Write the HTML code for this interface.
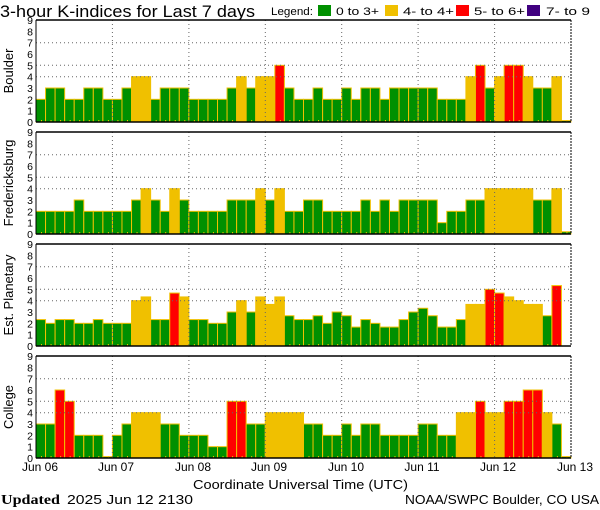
<!DOCTYPE html>
<html><head><meta charset="utf-8"><style>
html,body{margin:0;padding:0;background:#fff;}
svg{display:block;font-family:"Liberation Sans","DejaVu Sans",sans-serif;}
</style></head><body>
<svg id="s" width="600" height="510" xmlns="http://www.w3.org/2000/svg">
<rect width="600" height="510" fill="#fff"/>
<text x="0" y="17" font-size="17" fill="#000" textLength="255" lengthAdjust="spacingAndGlyphs">3-hour K-indices for Last 7 days</text>
<text x="271" y="15" font-size="11" fill="#000" textLength="42" lengthAdjust="spacingAndGlyphs">Legend:</text>
<rect x="318" y="5" width="13" height="11" fill="#009000"/>
<text x="336" y="15" font-size="11" textLength="43" lengthAdjust="spacingAndGlyphs">0 to 3+</text>
<rect x="385" y="5" width="13" height="11" fill="#f0c000"/>
<text x="403" y="15" font-size="11" textLength="51" lengthAdjust="spacingAndGlyphs">4- to 4+</text>
<rect x="456" y="5" width="13" height="11" fill="#ff0000"/>
<text x="474" y="15" font-size="11" textLength="51" lengthAdjust="spacingAndGlyphs">5- to 6+</text>
<rect x="527" y="5" width="13" height="11" fill="#400080"/>
<text x="546" y="15" font-size="11" textLength="44" lengthAdjust="spacingAndGlyphs">7- to 9</text>
<g font-size="13" text-anchor="middle">
<text transform="translate(13,71) rotate(-90)">Boulder</text>
<text transform="translate(13,183) rotate(-90)">Fredericksburg</text>
<text transform="translate(13,295) rotate(-90)">Est. Planetary</text>
<text transform="translate(13,407) rotate(-90)">College</text>
</g>
<g font-size="12" text-anchor="middle">
<text x="40" y="471">Jun 06</text><text x="116" y="471">Jun 07</text><text x="193" y="471">Jun 08</text><text x="269" y="471">Jun 09</text><text x="346" y="471">Jun 10</text><text x="422" y="471">Jun 11</text><text x="498" y="471">Jun 12</text><text x="575" y="471">Jun 13</text>
</g>
<text x="193" y="489" font-size="13" textLength="215" lengthAdjust="spacingAndGlyphs">Coordinate Universal Time (UTC)</text>
<text x="1" y="504" font-size="14" font-family="Liberation Serif,serif" font-weight="bold" textLength="59" lengthAdjust="spacingAndGlyphs">Updated</text>
<text x="67" y="504" font-size="13" textLength="126" lengthAdjust="spacingAndGlyphs">2025 Jun 12 2130</text>
<text x="405" y="504" font-size="13" textLength="194" lengthAdjust="spacingAndGlyphs">NOAA/SWPC Boulder, CO USA</text>
<g id="g"></g>
</svg>
<script>
var D=[
[2,3,3,2,2,3,3,2, 2,3,4,4,2,3,3,3, 2,2,2,2,3,4,3,4, 4,5,3,2,2,3,2,2, 3,2,3,3,2,3,3,3, 3,3,2,2,2,4,5,3, 4,5,5,4,3,3,4,0.12],
[2,2,2,2,3,2,2,2, 2,2,3,4,3,2,4,3, 2,2,2,2,3,3,3,4, 3,4,2,2,3,3,2,2, 2,2,3,2,3,2,3,3, 3,3,1,2,2,3,3,4, 4,4,4,4,3,3,4,0.2],
[2.33,2,2.33,2.33,2,2,2.33,2, 2,2,4,4.33,2.33,2.33,4.67,4.33, 2.33,2.33,2,2,3,4,3,4.33, 3.67,4.33,2.67,2.33,2.33,2.67,2,3, 2.67,1.67,2.33,2,1.67,1.67,2.33,3, 3.33,2.67,1.67,1.67,2.33,3.67,3.67,5, 4.67,4.33,4,3.67,3.67,2.67,5.33,0],
[3,3,6,5,2,2,2,0.12, 2,3,4,4,4,3,3,2, 2,2,1,1,5,5,3,3, 4,4,4,4,3,3,2,2, 3,2,3,3,2,2,2,2, 3,3,2,2,4,4,5,4, 4,5,5,6,6,4,3,0.12]];
var tops=[20,132,244,356],H=102,X0=36,W=535,bw=W/56,u=H/9,h='';
function col(v){return v>=6.67?'#400080':v>=4.67?'#ff0000':v>=3.67?'#f0c000':'#009000';}
for(var p=0;p<4;p++){var t=tops[p],b=t+H;
 for(var i=0;i<56;i++){var v=D[p][i];if(v<=0)continue;var x=X0+i*bw,y=b-v*u;
  h+='<rect x="'+x.toFixed(2)+'" y="'+y.toFixed(2)+'" width="'+bw.toFixed(2)+'" height="'+(v*u).toFixed(2)+'" fill="'+col(v)+'" stroke="#f0c000" stroke-width="1"/>';
  h+='<rect x="'+(x+5).toFixed(2)+'" y="'+(b-2)+'" width="1" height="2" fill="#f0c000"/>';}
 [4,5,7].forEach(function(k){var y=(b-k*u).toFixed(1);h+='<line x1="'+X0+'" x2="'+(X0+W)+'" y1="'+y+'" y2="'+y+'" stroke="#666" stroke-dasharray="1,3"/>';});
 for(var d=1;d<7;d++){var x=(X0+d*W/7).toFixed(1);h+='<line x1="'+x+'" x2="'+x+'" y1="'+t+'" y2="'+b+'" stroke="#666" stroke-dasharray="1,3"/>';}
 h+='<line x1="'+X0+'" x2="'+(X0+W)+'" y1="'+t+'" y2="'+t+'" stroke="#000" stroke-width="1.5"/>';
 h+='<line x1="'+X0+'" x2="'+(X0+W)+'" y1="'+b+'" y2="'+b+'" stroke="#000" stroke-width="1.5"/>';
 h+='<line x1="'+X0+'" x2="'+X0+'" y1="'+t+'" y2="'+b+'" stroke="#000" stroke-width="1"/>';
 h+='<line x1="'+(X0+W)+'" x2="'+(X0+W)+'" y1="'+t+'" y2="'+b+'" stroke="#000" stroke-width="1" stroke-dasharray="2,1"/>';
 for(var k=0;k<10;k++){h+='<text x="33" y="'+(b-k*u+4).toFixed(1)+'" font-size="10.5" text-anchor="end">'+k+'</text>';}
}
document.getElementById('g').innerHTML=h;
</script>
</body></html>
